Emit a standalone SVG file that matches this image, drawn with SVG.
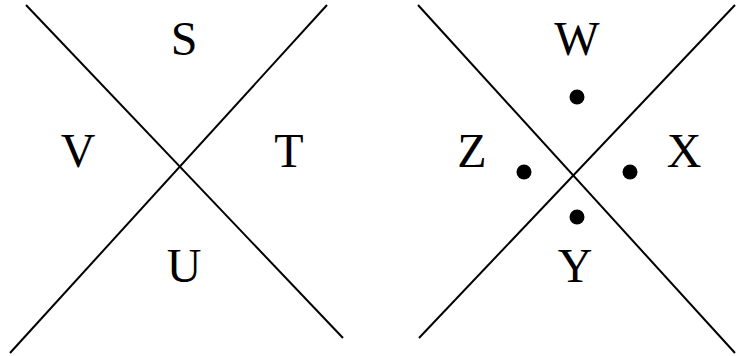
<svg xmlns="http://www.w3.org/2000/svg" width="749" height="356" viewBox="0 0 749 356">
<style>
line{stroke:#000;stroke-width:2;fill:none}
text{font-family:"Liberation Serif","Times New Roman",serif;font-size:48px;fill:#000;text-anchor:middle}
circle{fill:#000}
</style>
<rect width="749" height="356" fill="#fff"/>
<g id="connectors">
<line x1="26" y1="5" x2="343" y2="338"/>
<line x1="327" y1="5" x2="10" y2="353"/>
<line x1="418" y1="5" x2="735" y2="353"/>
<line x1="735" y1="5" x2="419" y2="338"/>
</g>
<g id="S"><text x="184" y="55">S</text></g>
<g id="V"><text x="78" y="167">V</text></g>
<g id="T"><text x="289" y="167">T</text></g>
<g id="U"><text x="184" y="282">U</text></g>
<g id="W"><text x="577" y="55">W</text><circle cx="577" cy="97" r="7.5"/></g>
<g id="Z"><text x="472" y="167">Z</text><circle cx="524" cy="172" r="7.5"/></g>
<g id="X"><text x="684" y="167">X</text><circle cx="630" cy="172" r="7.5"/></g>
<g id="Y"><text x="575" y="282">Y</text><circle cx="577" cy="217" r="7.5"/></g>
</svg>
